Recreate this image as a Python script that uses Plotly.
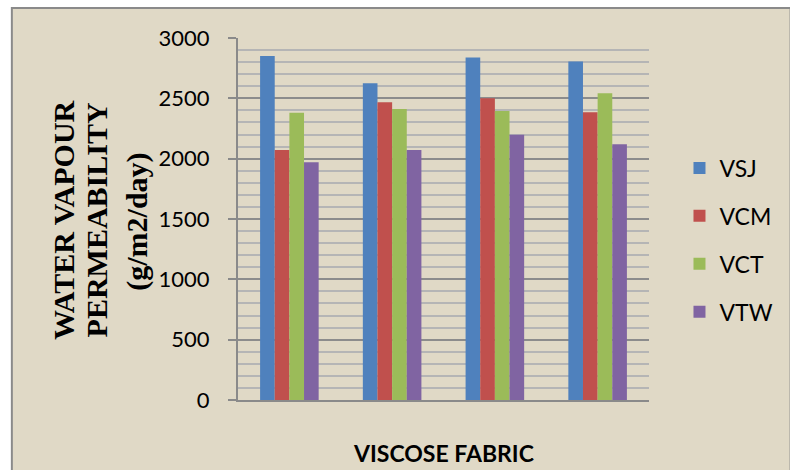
import plotly.graph_objects as go

# Water vapour permeability of the four viscose fabric samples
categories = ["1", "2", "3", "4"]
vsj = [2850, 2624, 2839, 2806]
vcm = [2072, 2467, 2500, 2384]
vct = [2381, 2412, 2395, 2542]
vtw = [1971, 2072, 2199, 2120]

series = [
    ("VSJ", vsj, "#4f81bd"),
    ("VCM", vcm, "#c0504d"),
    ("VCT", vct, "#9bbb59"),
    ("VTW", vtw, "#8064a2"),
]

y_ticks = [0, 500, 1000, 1500, 2000, 2500, 3000]
y_title_lines = ["WATER VAPOUR", "PERMEABILITY", "(g/m2/day)"]

BG = "#e0d9c6"
W, H = 790, 470
L, R, T, B = 238, 134, 38, 70
pw, ph = W - L - R, H - T - B


def px_x(x):
    return (x - L) / pw


def px_y(y):
    return (H - B - y) / ph


fig = go.Figure()
for name, vals, color in series:
    fig.add_trace(go.Bar(
        x=categories, y=vals, name=name,
        marker=dict(color=color, line=dict(width=0)),
        legendgroup=name,
    ))

# rotated y-axis title, one annotation per line
title_x = [61, 95, 135]
title_y = [220, 220, 222]
annotations = [
    dict(
        text=f"<b>{line}</b>",
        xref="paper", yref="paper",
        x=px_x(cx), y=px_y(cy),
        xanchor="center", yanchor="middle",
        textangle=-90, showarrow=False,
        font=dict(family="Liberation Serif", size=30, color="black"),
    )
    for line, cx, cy in zip(y_title_lines, title_x, title_y)
]
annotations.append(dict(
    text="<b>VISCOSE FABRIC</b>",
    xref="paper", yref="paper",
    x=0.5, y=px_y(453),
    xanchor="center", yanchor="middle",
    showarrow=False,
    font=dict(family="Lato", size=23, color="black"),
))

fig.update_layout(
    width=W, height=H,
    margin=dict(l=L, r=R, t=T, b=B),
    paper_bgcolor="white",
    plot_bgcolor="rgba(0,0,0,0)",
    barmode="group",
    bargap=0.43,
    bargroupgap=0,
    showlegend=True,
    legend=dict(
        x=px_x(687), xanchor="left",
        y=px_y(240), yanchor="middle",
        font=dict(family="Lato", size=23, color="black"),
        tracegroupgap=15,
        traceorder="grouped",
        bgcolor="rgba(0,0,0,0)",
    ),
    xaxis=dict(
        showticklabels=False, showgrid=False, ticks="",
        showline=True, linecolor="#8a8a8a", linewidth=2,
        zeroline=False,
    ),
    yaxis=dict(
        range=[0, 3000],
        tickvals=y_ticks,
        tickfont=dict(family="Lato", size=22, color="black"),
        ticks="outside", ticklen=8, tickcolor="#8a8a8a", tickwidth=2,
        ticklabelstandoff=14,
        showgrid=True, gridcolor="#8c8c8c", gridwidth=2,
        minor=dict(dtick=100, showgrid=True, gridcolor="#b5b5b5", gridwidth=1.5),
        showline=True, linecolor="#8a8a8a", linewidth=2,
        zeroline=False,
    ),
    shapes=[dict(
        type="rect", xref="paper", yref="paper", layer="below",
        x0=px_x(8), x1=px_x(800), y0=px_y(480), y1=px_y(8),
        fillcolor=BG, line=dict(color="#8a8a8a", width=2),
    )],
    annotations=annotations,
)

fig.write_html("out.html")
